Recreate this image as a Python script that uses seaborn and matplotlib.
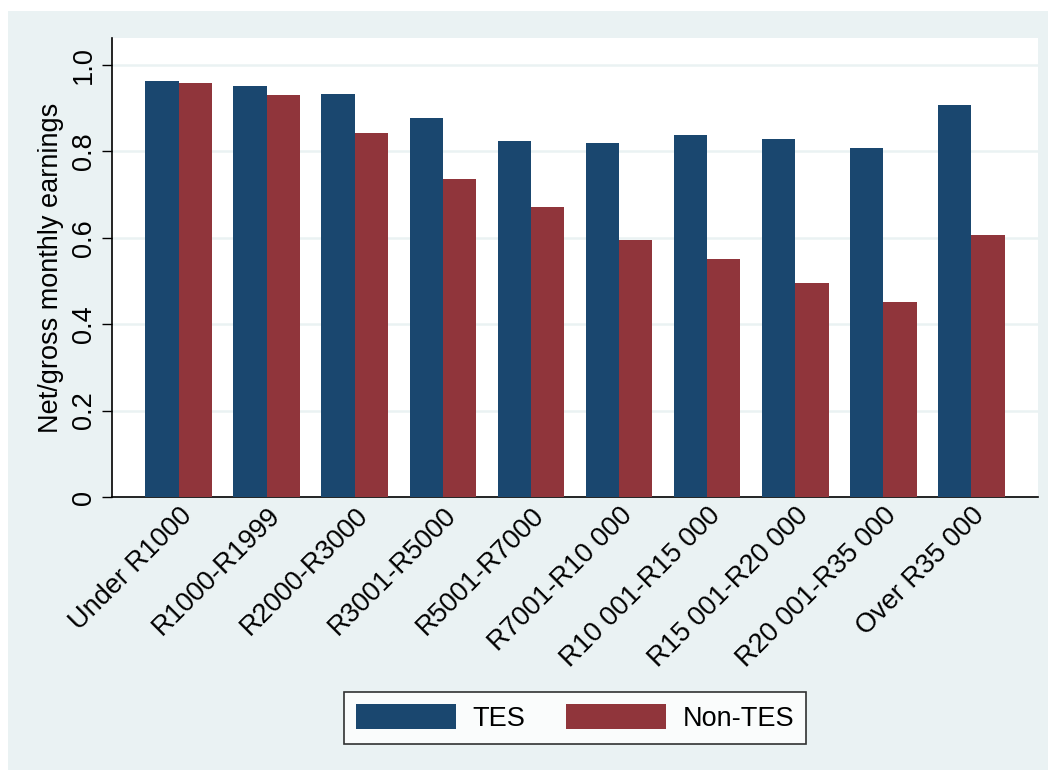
import matplotlib
matplotlib.use("Agg")
import matplotlib.pyplot as plt
from matplotlib.patches import Rectangle, Patch
import seaborn as sns
import pandas as pd

categories = ["Under R1000", "R1000-R1999", "R2000-R3000", "R3001-R5000", "R5001-R7000",
              "R7001-R10 000", "R10 001-R15 000", "R15 001-R20 000", "R20 001-R35 000", "Over R35 000"]
tes = [0.962, 0.952, 0.932, 0.878, 0.823, 0.819, 0.838, 0.829, 0.807, 0.907]
non_tes = [0.958, 0.931, 0.843, 0.736, 0.671, 0.594, 0.550, 0.495, 0.451, 0.606]
series = ["TES", "Non-TES"]
yticks = [0, 0.2, 0.4, 0.6, 0.8, 1.0]
ytick_labels = ["0", "0.2", "0.4", "0.6", "0.8", "1.0"]

navy = "#1a476f"
maroon = "#90353b"
bg = "#eaf2f3"

df = pd.DataFrame({
    "cat": categories * 2,
    "val": tes + non_tes,
    "series": [series[0]] * len(categories) + [series[1]] * len(categories),
})

sns.set_theme(style="white")
plt.rcParams["font.family"] = ["Liberation Sans", "DejaVu Sans"]
plt.rcParams["text.color"] = "black"
plt.rcParams["axes.labelcolor"] = "black"
plt.rcParams["xtick.color"] = "black"
plt.rcParams["ytick.color"] = "black"

fs = 19.5

fig = plt.figure(figsize=(10.5, 7.71), dpi=100, facecolor="white")
fig.add_artist(Rectangle((8 / 1050, 1 / 771), 1040 / 1050, 759 / 771,
                         transform=fig.transFigure, facecolor=bg, edgecolor="none", zorder=-10))
ax = fig.add_axes([112 / 1050, 1 - 497 / 771, (1038 - 112) / 1050, (497 - 38) / 771])
ax.set_facecolor("white")

sns.barplot(data=df, x="cat", y="val", hue="series", order=categories, hue_order=series,
            palette=[navy, maroon], width=0.76, gap=0, linewidth=0, saturation=1,
            ax=ax, legend=False, zorder=3)

ax.set_xlim(-0.76, len(categories) - 1 + 0.76)
ax.set_ylim(0, 1.0625)
ax.set_yticks(yticks)
ax.set_yticklabels(ytick_labels, rotation=90, va="center", fontsize=fs, color="black")
ax.yaxis.grid(True, color=bg, linewidth=1.8, zorder=0)
ax.set_axisbelow(True)
ax.tick_params(axis="y", direction="out", length=7, width=1, colors="black", pad=4, left=True)
ax.tick_params(axis="x", length=0, pad=4, colors="black")
for lbl in ax.get_xticklabels():
    lbl.set_rotation(45)
    lbl.set_ha("right")
    lbl.set_rotation_mode("anchor")
    lbl.set_fontsize(fs)
    lbl.set_color("black")
ax.set_xlabel("")
ax.set_ylabel("Net/gross monthly earnings", fontsize=fs, labelpad=5, color="black")

for s in ["top", "right"]:
    ax.spines[s].set_visible(False)
for s in ["left", "bottom"]:
    ax.spines[s].set_visible(True)
    ax.spines[s].set_color("black")
    ax.spines[s].set_linewidth(1.2)

handles = [Patch(facecolor=navy, edgecolor="none", label="TES"),
           Patch(facecolor=maroon, edgecolor="none", label="Non-TES")]
leg = fig.legend(handles=handles, loc="center", bbox_to_anchor=(575 / 1050, 1 - 718 / 771),
                 ncol=2, fontsize=fs, frameon=True, fancybox=False, handlelength=3.7,
                 handleheight=1.0, handletextpad=0.6, columnspacing=1.5, borderpad=0.45)
leg.get_frame().set_edgecolor("black")
leg.get_frame().set_linewidth(1.2)
leg.get_frame().set_facecolor("white")
for t in leg.get_texts():
    t.set_color("black")

fig.savefig("out.png", dpi=100, facecolor="white")
